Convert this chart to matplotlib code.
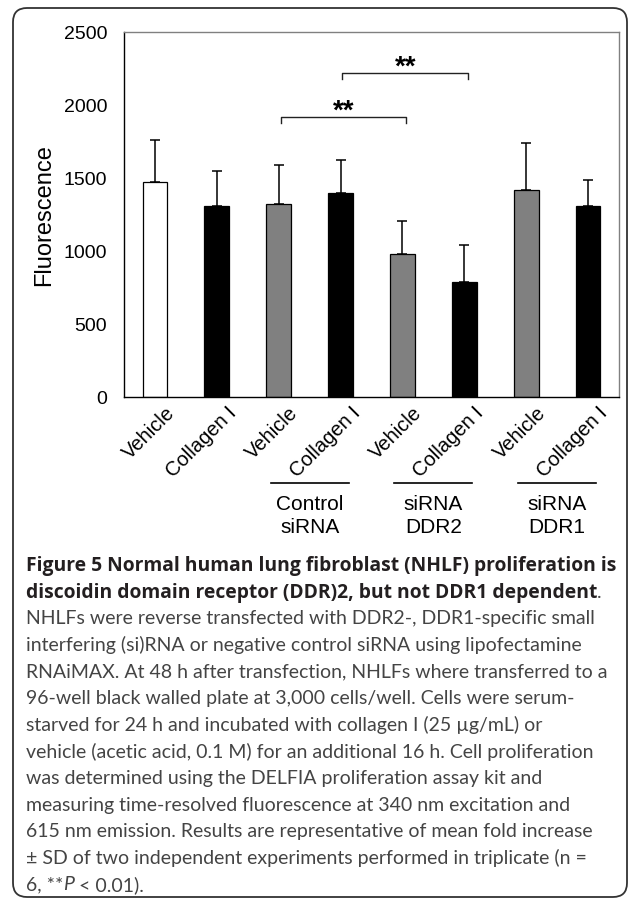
import numpy as np
import matplotlib
matplotlib.use("Agg")
import matplotlib.pyplot as plt
import matplotlib.transforms as mtrans
from matplotlib.patches import FancyBboxPatch

plt.rcParams['font.family'] = ['Liberation Sans', 'DejaVu Sans']

# data
labels = ["Vehicle", "Collagen I", "Vehicle", "Collagen I",
          "Vehicle", "Collagen I", "Vehicle", "Collagen I"]
means = [1470, 1305, 1325, 1400, 980, 790, 1415, 1305]
sds = [290, 240, 265, 220, 225, 250, 325, 180]
fills = ["white", "black", "#808080", "black", "#808080", "black", "#808080", "black"]
groups = ["Control\nsiRNA", "siRNA\nDDR2", "siRNA\nDDR1"]
group_bars = [(2, 3), (4, 5), (6, 7)]
sig_pairs = [(2, 4), (3, 5)]
sig_heights = [1918, 2219]
sig_text = ["**", "**"]

caption_bold = ["Figure 5 Normal human lung fibroblast (NHLF) proliferation is",
                "discoidin domain receptor (DDR)2, but not DDR1 dependent"]
caption_lines = [
    "NHLFs were reverse transfected with DDR2-, DDR1-specific small",
    "interfering (si)RNA or negative control siRNA using lipofectamine",
    "RNAiMAX. At 48 h after transfection, NHLFs where transferred to a",
    "96-well black walled plate at 3,000 cells/well. Cells were serum-",
    "starved for 24 h and incubated with collagen I (25 \u00b5g/mL) or",
    "vehicle (acetic acid, 0.1 M) for an additional 16 h. Cell proliferation",
    "was determined using the DELFIA proliferation assay kit and",
    "measuring time-resolved fluorescence at 340 nm excitation and",
    "615 nm emission. Results are representative of mean fold increase",
    "\u00b1 SD of two independent experiments performed in triplicate (n =",
]
caption_last = ["6, **", "P", " < 0.01)."]

W, H = 635, 903
fig = plt.figure(figsize=(W / 100, H / 100), dpi=100)

# rounded frame around the whole figure
frame = FancyBboxPatch((0.13, 0.05), 6.14, 8.89, boxstyle="round,pad=0,rounding_size=0.14",
                       transform=fig.dpi_scale_trans, fill=False, edgecolor="#333333", lw=1.3)
fig.patches.append(frame)

ax = fig.add_axes([124 / W, 1 - 398 / H, 495 / W, 365 / H])
x = np.arange(len(means))
ax.bar(x, means, width=0.4, color=fills, edgecolor="black", linewidth=0.9, zorder=2)
ax.errorbar(x, means, yerr=[np.zeros(len(sds)), sds], fmt="none", ecolor="black",
            elinewidth=1.1, capsize=3.5, capthick=1.1, zorder=1)

ax.set_xlim(-0.5, 7.5)
ax.set_ylim(0, 2500)
ax.set_yticks([0, 500, 1000, 1500, 2000, 2500])
ax.tick_params(axis="y", length=0, pad=12, labelsize=14)
ax.set_xticks(x)
ax.set_xticklabels(labels, rotation=45, ha="right", rotation_mode="anchor", fontsize=14.5)
ax.tick_params(axis="x", length=0, pad=2)
ax.set_ylabel("Fluorescence", fontsize=17, labelpad=6)
for side in ["top", "right"]:
    ax.spines[side].set_color("#808080")
for side in ["left", "bottom"]:
    ax.spines[side].set_color("black")
for s in ax.spines.values():
    s.set_linewidth(1.0)

# shift rotated x labels so their ends sit just right of each bar
offset = mtrans.ScaledTranslation(10 / 100, -3 / 100, fig.dpi_scale_trans)
for lab in ax.get_xticklabels():
    lab.set_transform(lab.get_transform() + offset)

# significance brackets
for (a, b), h, t in zip(sig_pairs, sig_heights, sig_text):
    xa, xb = a + 0.03, b + 0.06
    ax.plot([xa, xa, xb, xb], [h - 42, h, h, h - 42], color="#222222", lw=1.0, clip_on=False)
    ax.text((xa + xb) / 2, h - 2, t, ha="center", va="baseline", fontsize=20,
            fontweight="bold")

# group labels under the x axis
for (a, b), g in zip(group_bars, groups):
    mid = (a + b) / 2
    ax.plot([mid - 0.63, mid + 0.63], [-590, -590], color="black", lw=1.2, clip_on=False)
    ax.text(mid, -665, g, ha="center", va="top", fontsize=15, linespacing=1.28)

# caption
cap_font = "Lato"
left = 26 / W
y0 = 566
for i, line in enumerate(caption_bold):
    t = fig.text(left, 1 - (y0 + 27 * i) / H, line, fontsize=13.85, family="Open Sans",
                 fontweight="bold", color="#231f20", va="center")
fig.canvas.draw()
r = fig.canvas.get_renderer()
bb = t.get_window_extent(r)
fig.text(bb.x1 / W, 1 - 593 / H, ".", fontsize=14, family=cap_font, color="#444444", va="center")

for i, line in enumerate(caption_lines):
    fig.text(left, 1 - (618.5 + 26.65 * i) / H, line, fontsize=14, family=cap_font,
             color="#444444", va="center")

ylast = 1 - (618.5 + 26.65 * len(caption_lines)) / H
xpos = left * W
for k, part in enumerate(caption_last):
    t = fig.text(xpos / W, ylast, part, fontsize=14, family=cap_font, color="#444444",
                 va="center", style="italic" if part == "P" else "normal")
    fig.canvas.draw()
    xpos = t.get_window_extent(r).x1

fig.savefig("out.png", dpi=100)
